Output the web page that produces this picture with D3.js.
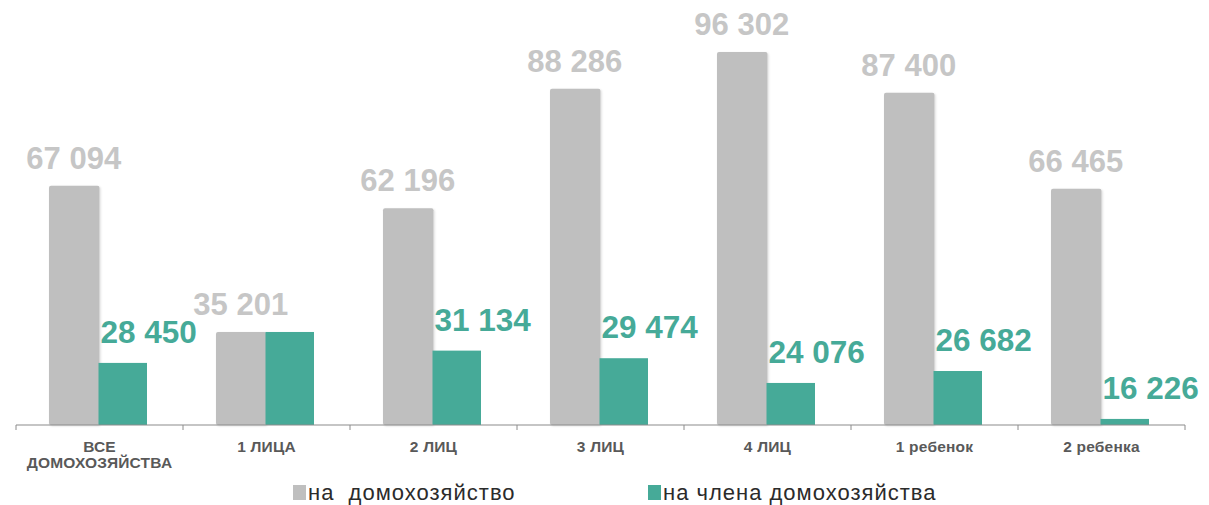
<!DOCTYPE html>
<html>
<head>
<meta charset="utf-8">
<script src="https://cdn.jsdelivr.net/npm/d3@7"></script>
<style>
  body { margin: 0; background: #fff; }
  text { font-family: "Liberation Sans", Arial, sans-serif; }
</style>
</head>
<body>
<script>
// категории и значения
var categories = ["ВСЕ|ДОМОХОЗЯЙСТВА", "1 ЛИЦА", "2 ЛИЦ", "3 ЛИЦ", "4 ЛИЦ", "1 ребенок", "2 ребенка"];
var perHousehold = [67094, 35201, 62196, 88286, 96302, 87400, 66465];
var perMember = [28450, 35201, 31134, 29474, 24076, 26682, 16226];
var showMemberLabel = [true, false, true, true, true, true, true];
var seriesNames = ["на  домохозяйство", "на члена домохозяйства"];
var colors = ["#bfbfbf", "#46aa98"];

var width = 1209, height = 505;
var svg = d3.select("body").append("svg")
  .attr("width", width)
  .attr("height", height);

var defs = svg.append("defs");
var shadow = defs.append("filter").attr("id", "shd")
  .attr("x", "-10%").attr("y", "-10%").attr("width", "130%").attr("height", "130%");
shadow.append("feDropShadow")
  .attr("dx", 1).attr("dy", 1).attr("stdDeviation", 0.8)
  .attr("flood-color", "#000").attr("flood-opacity", 0.15);

var x0 = d3.scaleBand()
  .domain(d3.range(categories.length))
  .range([16, 1185])
  .paddingInner(0)
  .paddingOuter(0);

var x1 = d3.scaleBand()
  .domain([0, 1])
  .range([33, x0.bandwidth() - 35]);

// ось начинается не с нуля (как в исходнике)
var y = d3.scaleLinear()
  .domain([14900, 96302])
  .range([425, 52]);

var fmt = function(v){ return d3.format(",")(v).replace(/,/g, " "); };

var groups = svg.append("g").selectAll("g")
  .data(categories)
  .enter().append("g")
  .attr("transform", function(d, i){ return "translate(" + x0(i) + ",0)"; });

// серые столбцы
groups.append("rect")
  .attr("x", x1(0))
  .attr("width", x1.bandwidth() + 1)
  .attr("y", function(d, i){ return y(perHousehold[i]); })
  .attr("height", function(d, i){ return y.range()[0] - y(perHousehold[i]); })
  .attr("rx", 2)
  .attr("fill", colors[0])
  .attr("filter", "url(#shd)");

// зеленые столбцы
groups.append("rect")
  .attr("x", x1(1))
  .attr("width", x1.bandwidth() - 1)
  .attr("y", function(d, i){ return y(perMember[i]); })
  .attr("height", function(d, i){ return y.range()[0] - y(perMember[i]); })
  .attr("fill", colors[1]);

groups.append("text")
  .attr("x", x1(0) + x1.bandwidth() / 2)
  .attr("y", function(d, i){ return y(perHousehold[i]) - 17; })
  .attr("text-anchor", "middle")
  .attr("font-size", 31)
  .attr("font-weight", "bold")
  .attr("fill", "#c6c6c6")
  .text(function(d, i){ return fmt(perHousehold[i]); });

groups.filter(function(d, i){ return showMemberLabel[i]; })
  .append("text")
  .attr("x", x1(1) + 2)
  .attr("y", function(d){ var i = categories.indexOf(d); return y(perMember[i]) - 20; })
  .attr("text-anchor", "start")
  .attr("font-size", 31.5)
  .attr("font-weight", "bold")
  .attr("fill", colors[1])
  .text(function(d){ return fmt(perMember[categories.indexOf(d)]); });

// ось X
var axis = svg.append("g").attr("transform", "translate(0,425)");
axis.append("line")
  .attr("x1", x0.range()[0]).attr("x2", x0.range()[1])
  .attr("stroke", "#8c8c8c").attr("stroke-width", 1.2);
axis.selectAll(".tick")
  .data(d3.range(categories.length + 1))
  .enter().append("line")
  .attr("x1", function(i){ return x0.range()[0] + i * x0.step(); })
  .attr("x2", function(i){ return x0.range()[0] + i * x0.step(); })
  .attr("y1", 0).attr("y2", 5)
  .attr("stroke", "#8c8c8c");

groups.append("text")
  .attr("x", x0.bandwidth() / 2)
  .attr("y", 452)
  .attr("text-anchor", "middle")
  .attr("font-size", 15.5)
  .attr("letter-spacing", 0.2)
  .attr("font-weight", "bold")
  .attr("fill", "#595959")
  .selectAll("tspan")
  .data(function(d){ return d.split("|"); })
  .enter().append("tspan")
  .attr("x", x0.bandwidth() / 2)
  .attr("dy", function(d, j){ return j === 0 ? 0 : 16; })
  .text(function(d){ return d; });

// легенда
var legendX = [293, 648];
var legend = svg.append("g").selectAll("g")
  .data(seriesNames)
  .enter().append("g")
  .attr("transform", function(d, i){ return "translate(" + legendX[i] + ",485)"; });
legend.append("rect")
  .attr("width", 13).attr("height", 15)
  .attr("fill", function(d, i){ return colors[i]; });
legend.append("text")
  .attr("x", 15).attr("y", 15)
  .attr("font-size", 22)
  .attr("letter-spacing", 1)
  .attr("fill", "#2b2b2b")
  .style("white-space", "pre")
  .text(function(d){ return d; });
</script>
</body>
</html>
